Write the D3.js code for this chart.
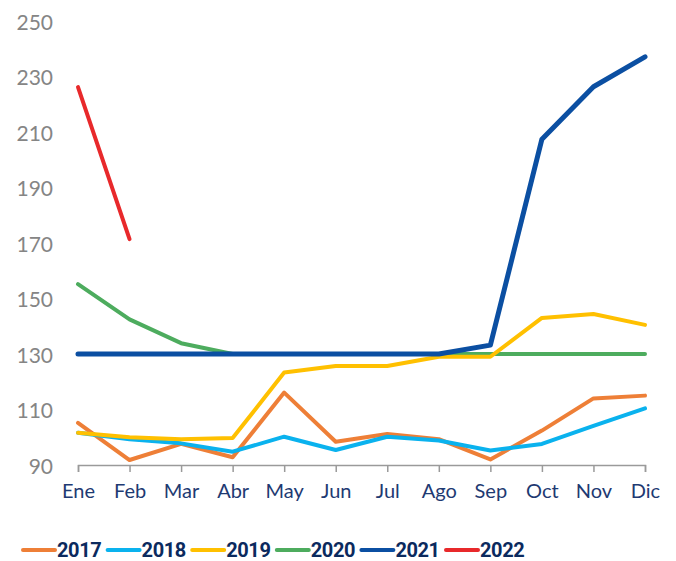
<!DOCTYPE html>
<html>
<head>
<meta charset="utf-8">
<script src="https://cdn.jsdelivr.net/npm/d3@7"></script>
<style>
  body { margin: 0; background: #fff; }
</style>
</head>
<body>
<script>
const WIDTH = 676;
const HEIGHT = 561;

const months = ['Ene', 'Feb', 'Mar', 'Abr', 'May', 'Jun', 'Jul', 'Ago', 'Sep', 'Oct', 'Nov', 'Dic'];
const yTicks = [90, 110, 130, 150, 170, 190, 210, 230, 250];

const s2017 = [105.2, 91.8, 97.6, 92.8, 116.1, 98.4, 101.2, 99.3, 92.0, 102.4, 114.0, 115.0];
const s2018 = [101.6, 99.3, 97.8, 94.8, 100.2, 95.4, 100.2, 98.8, 95.2, 97.6, 104.1, 110.4];
const s2019 = [101.6, 100.0, 99.3, 99.7, 123.3, 125.7, 125.7, 129.0, 129.0, 143.0, 144.4, 140.5];
const s2020 = [155.2, 142.5, 133.9, 130, 130, 130, 130, 130, 130, 130, 130, 130];
const s2021 = [130, 130, 130, 130, 130, 130, 130, 130, 133.2, 207.4, 226.3, 237.1];
const s2022 = [226.2, 171.4];

const seriesNames = ['2017', '2018', '2019', '2020', '2021', '2022'];
const seriesValues = [s2017, s2018, s2019, s2020, s2021, s2022];
const seriesColors = ['#EE7F37', '#0AB2EE', '#FFC000', '#4DAC5E', '#0B4FA2', '#E8292B'];

const margin = { left: 78, right: 31, top: 21, bottom: 96 };

const svg = d3.select('body').append('svg')
  .attr('width', WIDTH)
  .attr('height', HEIGHT);

const x = d3.scalePoint()
  .domain(months)
  .range([margin.left, WIDTH - margin.right]);

const y = d3.scaleLinear()
  .domain([90, 250])
  .range([HEIGHT - margin.bottom, margin.top]);

// y labels (no axis line)
svg.append('g')
  .selectAll('text')
  .data(yTicks)
  .join('text')
  .attr('x', 53)
  .attr('y', d => y(d) + 1)
  .attr('dy', '0.36em')
  .attr('text-anchor', 'end')
  .attr('fill', '#858585')
  .attr('font-family', 'Lato, "Open Sans", sans-serif')
  .attr('font-size', 21)
  .text(d => d);

// x axis
const xAxis = svg.append('g')
  .attr('transform', `translate(0,${y(90)})`)
  .call(d3.axisBottom(x).tickSize(7).tickPadding(12));
xAxis.select('.domain').attr('stroke', '#9A9A9A').attr('stroke-width', 1.5);
xAxis.selectAll('.tick line').attr('stroke', '#9A9A9A').attr('stroke-width', 1.5);
xAxis.selectAll('.tick text')
  .attr('fill', '#1E3A72')
  .attr('font-family', 'Lato, "Open Sans", sans-serif')
  .attr('font-size', 20);

const line = d3.line()
  .x((d, i) => x(months[i]))
  .y(d => y(d));

// draw order: 2020 under 2021 etc.
const order = [3, 0, 1, 2, 4, 5];
order.forEach(k => {
  svg.append('path')
    .datum(seriesValues[k])
    .attr('fill', 'none')
    .attr('stroke', seriesColors[k])
    .attr('stroke-width', k === 4 ? 5 : 4)
    .attr('stroke-linejoin', 'round')
    .attr('stroke-linecap', 'round')
    .attr('d', line);
});

// legend
const legend = svg.append('g').attr('transform', 'translate(23,550)');
seriesNames.forEach((name, i) => {
  const lx = i * 84.6;
  legend.append('line')
    .attr('x1', lx).attr('x2', lx + 32)
    .attr('y1', 0).attr('y2', 0)
    .attr('stroke', seriesColors[i])
    .attr('stroke-width', 4)
    .attr('stroke-linecap', 'round');
  legend.append('text')
    .attr('x', lx + 34)
    .attr('y', 0)
    .attr('dy', '0.36em')
    .attr('fill', '#0B2A5E')
    .attr('font-family', 'Roboto, "DejaVu Sans", sans-serif')
    .attr('font-weight', 700)
    .attr('font-size', 20)
    .attr('letter-spacing', -0.4)
    .text(name);
});
</script>
</body>
</html>
